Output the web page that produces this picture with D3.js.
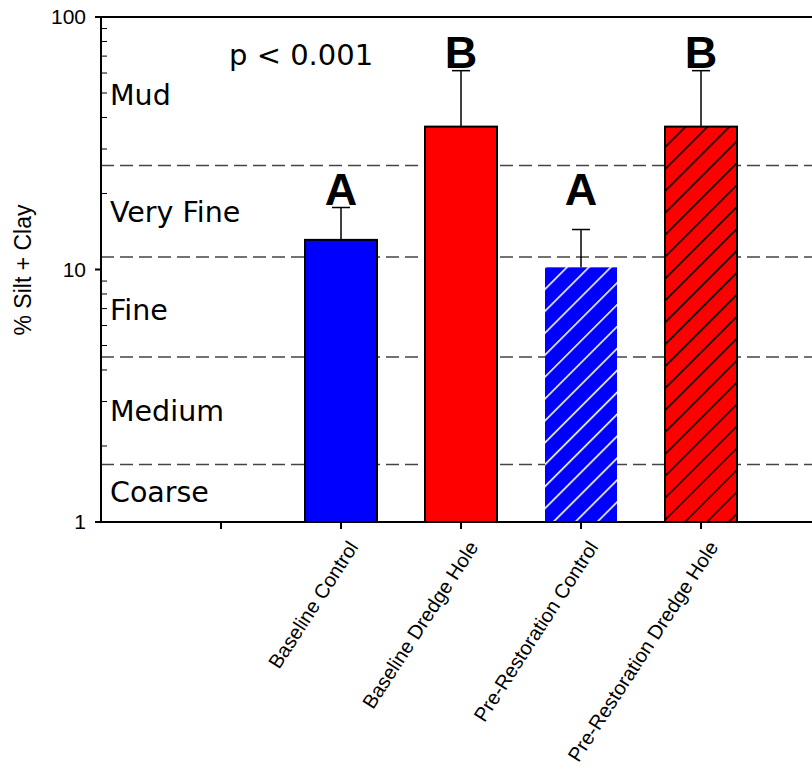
<!DOCTYPE html>
<html>
<head>
<meta charset="utf-8">
<script src="https://cdn.jsdelivr.net/npm/d3@7"></script>
<style>
  body { margin: 0; background: #fff; }
  svg { display: block; }
</style>
</head>
<body>
<div id="chart"></div>
<script>
// groups, in the order of the x axis (first tick left empty)
const categories = ["Baseline Control", "Baseline Dredge Hole", "Pre-Restoration Control", "Pre-Restoration Dredge Hole"];
const means      = [13.1, 36.8, 10.2, 36.8];
const upperErr   = [17.6, 61.3, 14.4, 61.3];
const letters    = ["A", "B", "A", "B"];
const fills      = ["#0000ff", "#ff0000", "#0000ff", "#ff0000"];
const hatched    = [false, false, true, true];

// sediment class boundaries (% silt + clay) and their names, bottom to top
const classBreaks = [1, 1.69, 4.5, 11.2, 25.8, 100];
const classNames  = ["Coarse", "Medium", "Fine", "Very Fine", "Mud"];

const yTicks = [1, 10, 100];
const pText = "p < 0.001";

const W = 812, H = 767;
const svg = d3.select("#chart").append("svg").attr("width", W).attr("height", H);

const defs = svg.append("defs");
function hatch(id, bg, line, lw) {
  const p = defs.append("pattern").attr("id", id)
    .attr("patternUnits", "userSpaceOnUse")
    .attr("width", 15.5).attr("height", 15.5)
    .attr("patternTransform", "rotate(45)");
  p.append("rect").attr("width", 15.5).attr("height", 15.5).attr("fill", bg);
  p.append("line").attr("x1", 0).attr("y1", 0).attr("x2", 0).attr("y2", 15.5)
    .attr("stroke", line).attr("stroke-width", lw);
}
hatch("hatch-blue", "#0000ff", "#ffffff", 3.2);
hatch("hatch-red", "#ff0000", "#000000", 3.2);

const y = d3.scaleLog().domain([1, 100]).range([522, 17]);
const x = d3.scaleLinear().domain([0, 7]).range([101, 941]);
const barW = 72;

// dashed class boundaries
const inner = classBreaks.slice(1, -1);
svg.selectAll(".brk").data(inner).enter().append("line")
  .attr("x1", 101).attr("x2", W)
  .attr("y1", d => y(d)).attr("y2", d => y(d))
  .attr("stroke", "#444").attr("stroke-width", 1.4)
  .attr("stroke-dasharray", "13,6");

// class names
const labelBase = [502, 421, 320, 222, 105];
svg.selectAll(".cls").data(classNames).enter().append("text")
  .attr("x", 110)
  .attr("y", (d, i) => labelBase[i])
  .style("font-family", "'DejaVu Sans', sans-serif")
  .style("font-size", "28.5px")
  .text(d => d);

svg.append("text").attr("x", 229).attr("y", 65)
  .style("font-family", "'DejaVu Sans', sans-serif")
  .style("font-size", "29px")
  .text(pText);

// error bars (upper only)
const eb = svg.selectAll(".eb").data(categories).enter().append("g");
eb.append("line")
  .attr("x1", (d, i) => x(i + 2)).attr("x2", (d, i) => x(i + 2))
  .attr("y1", (d, i) => y(means[i])).attr("y2", (d, i) => y(upperErr[i]))
  .attr("stroke", "#000").attr("stroke-width", 1.5);
eb.append("line")
  .attr("x1", (d, i) => x(i + 2) - 9).attr("x2", (d, i) => x(i + 2) + 9)
  .attr("y1", (d, i) => y(upperErr[i])).attr("y2", (d, i) => y(upperErr[i]))
  .attr("stroke", "#000").attr("stroke-width", 1.5);

// bars
svg.selectAll(".bar").data(categories).enter().append("rect")
  .attr("x", (d, i) => x(i + 2) - barW / 2)
  .attr("width", barW)
  .attr("y", (d, i) => y(means[i]))
  .attr("height", (d, i) => y(1) - y(means[i]))
  .attr("fill", (d, i) => hatched[i] ? (fills[i] === "#0000ff" ? "url(#hatch-blue)" : "url(#hatch-red)") : fills[i])
  .attr("stroke", (d, i) => (hatched[i] && fills[i] === "#0000ff") ? "none" : "#000")
  .attr("stroke-width", 2);

// significance letters sit above the highest cap in their group
const letterTop = {};
letters.forEach((l, i) => { letterTop[l] = Math.max(letterTop[l] || 0, upperErr[i]); });
svg.selectAll(".let").data(letters).enter().append("text")
  .attr("x", (d, i) => x(i + 2))
  .attr("y", d => y(letterTop[d]) - 3)
  .attr("text-anchor", "middle")
  .style("font-family", "'Liberation Sans', Arial, sans-serif")
  .style("font-weight", "bold")
  .style("font-size", "45px")
  .text(d => d);

// y axis
const yAxis = svg.append("g");
yAxis.append("line").attr("x1", 101).attr("x2", 101).attr("y1", 16).attr("y2", 523)
  .attr("stroke", "#000").attr("stroke-width", 2);
const minor = [];
for (let dec = 1; dec < 100; dec *= 10) for (let k = 2; k <= 9; k++) minor.push(k * dec);
yAxis.selectAll(".mn").data(minor).enter().append("line")
  .attr("x1", 101).attr("x2", 107)
  .attr("y1", d => y(d)).attr("y2", d => y(d))
  .attr("stroke", "#000").attr("stroke-width", 1);
yAxis.selectAll(".mj").data(yTicks).enter().append("line")
  .attr("x1", 95).attr("x2", 101)
  .attr("y1", d => y(d)).attr("y2", d => y(d))
  .attr("stroke", "#000").attr("stroke-width", 2);
yAxis.selectAll(".yl").data(yTicks).enter().append("text")
  .attr("x", 86).attr("y", d => y(d)).attr("dy", "0.35em")
  .attr("text-anchor", "end")
  .style("font-family", "'Liberation Sans', Arial, sans-serif")
  .style("font-size", "21px")
  .text(d => d);

svg.append("text")
  .attr("transform", "translate(31,270) rotate(-90)")
  .attr("text-anchor", "middle")
  .style("font-family", "'Liberation Sans', Arial, sans-serif")
  .style("font-size", "23px")
  .text("% Silt + Clay");

// top frame line and x axis
svg.append("line").attr("x1", 95).attr("x2", W).attr("y1", 17).attr("y2", 17)
  .attr("stroke", "#000").attr("stroke-width", 2);
svg.append("line").attr("x1", 95).attr("x2", W).attr("y1", 522).attr("y2", 522)
  .attr("stroke", "#000").attr("stroke-width", 2);
svg.selectAll(".xt").data(d3.range(1, 7)).enter().append("line")
  .attr("x1", d => x(d)).attr("x2", d => x(d))
  .attr("y1", 522).attr("y2", 529)
  .attr("stroke", "#000").attr("stroke-width", 2);
svg.selectAll(".xl").data(categories).enter().append("text")
  .attr("transform", (d, i) => `translate(${x(i + 2) + 18},547) rotate(-57)`)
  .attr("text-anchor", "end")
  .style("font-family", "'Liberation Sans', Arial, sans-serif")
  .style("font-size", "20px")
  .text(d => d);
</script>
</body>
</html>
